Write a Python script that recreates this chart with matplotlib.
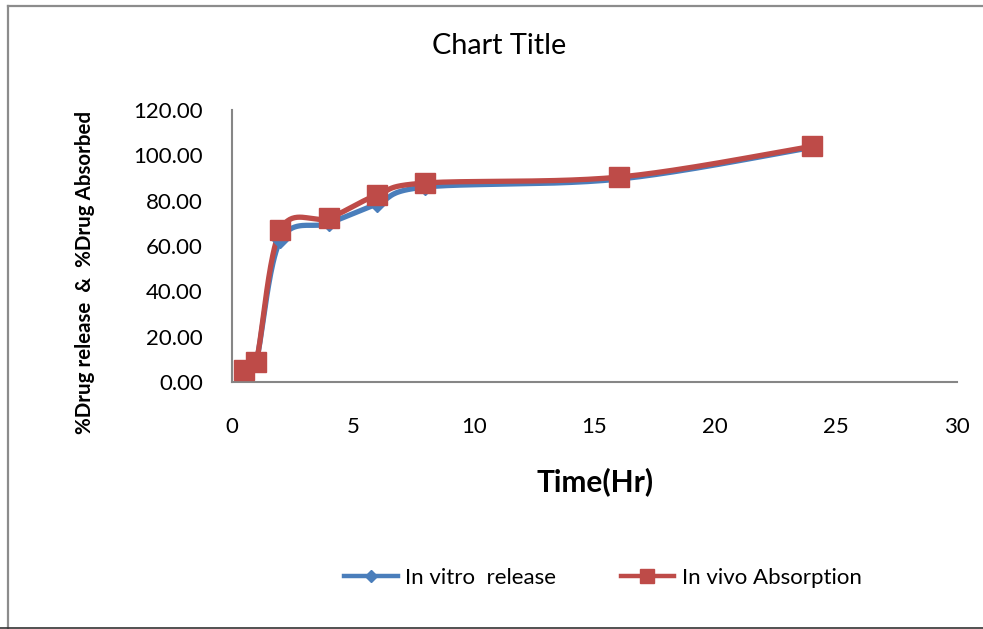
import numpy as np
import matplotlib
matplotlib.use("Agg")
import matplotlib.pyplot as plt
from matplotlib.lines import Line2D

plt.rcParams['font.family'] = ['Lato', 'DejaVu Sans']

time_hr = [0.5, 1, 2, 4, 6, 8, 16, 24]
in_vitro = [5.0, 9.0, 62.5, 70.0, 78.5, 86.0, 89.5, 103.5]
in_vivo = [5.3, 8.8, 67.0, 72.3, 82.5, 87.8, 90.4, 104.0]
x_ticks = [0, 5, 10, 15, 20, 25, 30]
y_ticks = [0, 20, 40, 60, 80, 100, 120]

BLUE = "#4A7EBB"
RED = "#BE4B48"
W, H = 983, 629


def smooth(x, y, sx, sy, n=40):
    """Bezier smoothing through the points (Catmull-Rom style, tension 1/6)."""
    p = np.column_stack([np.asarray(x, float) * sx, np.asarray(y, float) * sy])
    pts = np.vstack([p[0], p, p[-1]])
    out = []
    t = np.linspace(0, 1, n)[:, None]
    for i in range(1, len(pts) - 2):
        p0, p1, p2, p3 = pts[i - 1], pts[i], pts[i + 1], pts[i + 2]
        c1 = p1 + (p2 - p0) / 6.0
        c2 = p2 - (p3 - p1) / 6.0
        seg = ((1 - t) ** 3) * p1 + 3 * ((1 - t) ** 2) * t * c1 + 3 * (1 - t) * t ** 2 * c2 + t ** 3 * p2
        out.append(seg if i == 1 else seg[1:])
    out = np.vstack(out)
    return out[:, 0] / sx, out[:, 1] / sy


fig = plt.figure(figsize=(W / 100, H / 100), dpi=100)

# outer chart frame (left, top, bottom edges)
fig.add_artist(Line2D([8 / W, 8 / W], [0, 1 - 6 / H], transform=fig.transFigure,
                      color="#8C8C8C", linewidth=1.6))
fig.add_artist(Line2D([8 / W, 1], [1 - 6 / H, 1 - 6 / H], transform=fig.transFigure,
                      color="#8C8C8C", linewidth=1.6))
fig.add_artist(Line2D([0, 1], [0.6 / H, 0.6 / H], transform=fig.transFigure,
                      color="#333333", linewidth=1.2))

ax = fig.add_axes([232 / W, 1 - 382 / H, 725 / W, 272 / H])
ax.set_xlim(0, 30)
ax.set_ylim(0, 120)

sx, sy = 725 / 30.0, 272 / 120.0
series = [(in_vitro, BLUE, "D", 8, 6.5, "In vitro  release"),
          (in_vivo, RED, "s", 14.5, 10, "In vivo Absorption")]
for yv, col, mk, ms, lms, lab in series:
    xs, ys = smooth(time_hr, yv, sx, sy)
    ax.plot(xs, ys, color=col, linewidth=3.8, solid_capstyle="round", zorder=3)
    ax.plot(time_hr, yv, linestyle="none", marker=mk, markersize=ms, color=col, zorder=4)
    ax.plot([], [], color=col, linewidth=3.2, marker=mk, markersize=lms, label=lab)

ax.set_xticks(x_ticks)
ax.set_yticks(y_ticks)
ax.set_yticklabels([f"{v:.2f}" for v in y_ticks])
for s in ["top", "right"]:
    ax.spines[s].set_visible(False)
for s in ["left", "bottom"]:
    ax.spines[s].set_color("#868686")
    ax.spines[s].set_linewidth(1.5)
ax.tick_params(axis="both", length=0, labelcolor="black", labelsize=16)
ax.tick_params(axis="y", pad=21)
ax.tick_params(axis="x", pad=25)

ax.set_xlabel("Time(Hr)", fontsize=21.5, fontweight="bold")
ax.xaxis.label.set_va("center")
ax.xaxis.set_label_coords((595 - 232) / 725, (382 - 482) / 272)
ax.set_ylabel("%Drug release  &  %Drug Absorbed", fontsize=14.8, fontweight="bold")
ax.yaxis.set_label_coords((95 - 232) / 725, (382 - 272) / 272)

fig.text(499 / W, 1 - 46 / H, "Chart Title", ha="center", va="center", fontsize=20.8)

fig.legend(loc="center", bbox_to_anchor=(603 / W, 1 - 578 / H), ncol=2, frameon=False,
           fontsize=16, handlelength=2.4, columnspacing=2.9, handletextpad=0.35)

fig.savefig("out.png", dpi=100)
